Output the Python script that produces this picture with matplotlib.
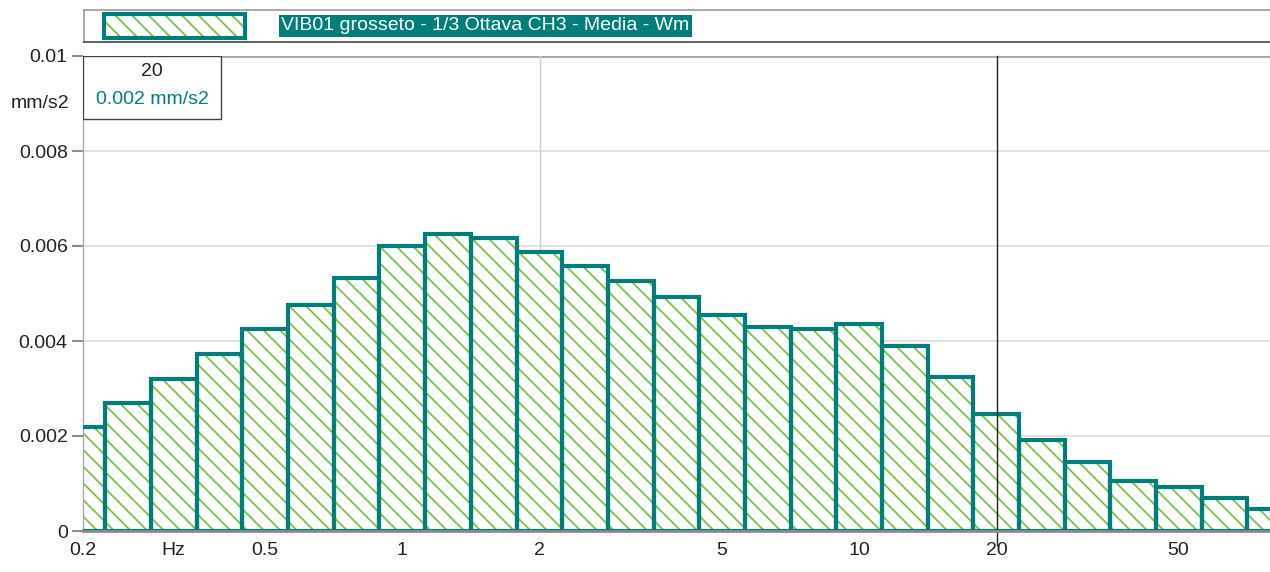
import numpy as np
import matplotlib
matplotlib.use("Agg")
import matplotlib.pyplot as plt
from matplotlib.patches import Rectangle

plt.rcParams['font.family'] = ['Liberation Sans Narrow', 'Liberation Sans', 'DejaVu Sans']
plt.rcParams['hatch.linewidth'] = 1.3

# 1/3 octave bands (Hz) and mean weighted acceleration (mm/s2)
bands = [0.2, 0.25, 0.315, 0.4, 0.5, 0.63, 0.8, 1, 1.25, 1.6, 2, 2.5, 3.15, 4,
         5, 6.3, 8, 10, 12.5, 16, 20, 25, 31.5, 40, 50, 63, 80]
values = [0.00219, 0.00269, 0.00320, 0.00373, 0.00425, 0.00476, 0.00533, 0.00600,
          0.00625, 0.00617, 0.00587, 0.00558, 0.00526, 0.00493, 0.00455, 0.00430,
          0.00425, 0.00436, 0.00390, 0.00324, 0.00246, 0.00192, 0.00145, 0.00105,
          0.00093, 0.00069, 0.00046]
xticks = [0.2, 0.315, 0.5, 1, 2, 5, 10, 20, 50]
xticklabels = ['0.2', 'Hz', '0.5', '1', '2', '5', '10', '20', '50']
yticks = [0, 0.002, 0.004, 0.006, 0.008, 0.01]
yticklabels = ['0', '0.002', '0.004', '0.006', '0.008', '0.01']
legend_label = 'VIB01 grosseto - 1/3 Ottava CH3 - Media - Wm'
cursor_freq = 20
cursor_value = values[bands.index(cursor_freq)]

TEAL = '#007f7a'
GREEN = '#7cc04a'
GREY = '#8c8c8c'

# exact base-10 band centres and edges
centres = 10 ** (np.round(10 * np.log10(bands)) / 10)
lo = centres * 10 ** -0.05
hi = centres * 10 ** 0.05

fig = plt.figure(figsize=(12.7, 5.72), dpi=100)
W, H = 1270, 572
ax = fig.add_axes([83 / W, 1 - 531 / H, (1270 - 83) / W, 475 / H])

ax.set_xscale('log')
ax.bar(lo, values, width=hi - lo, align='edge', color='white',
       edgecolor=GREEN, hatch='\\\\', linewidth=0, zorder=2)
ax.bar(lo, values, width=hi - lo, align='edge', fill=False,
       edgecolor=TEAL, linewidth=3, zorder=3)

ax.set_xlim(0.2, 79.3)
ax.set_ylim(0, 0.01)

# grid
for y in yticks[1:-1]:
    ax.axhline(y, color='#dcdcdc', linewidth=1.2, zorder=1)
ax.axhline(0.01, color='#a8a8a8', linewidth=2, zorder=1)
ax.axvline(2, color='#cccccc', linewidth=1, zorder=1)
ax.plot([cursor_freq, cursor_freq], [-0.0003, 0.01], color='#222222',
        linewidth=1, zorder=4, clip_on=False)

ax.set_xticks(xticks)
ax.set_xticklabels(xticklabels)
ax.xaxis.set_minor_locator(plt.NullLocator())
ax.set_yticks(yticks)
ax.set_yticklabels(yticklabels)
ax.tick_params(axis='both', colors=GREY, labelcolor='#222222', labelsize=14,
               length=8, width=1.5, direction='out', pad=3)
ax.tick_params(axis='x', length=0, pad=8)

for s in ['top', 'right']:
    ax.spines[s].set_visible(False)
ax.spines['left'].set_color('#aaaaaa')
ax.spines['left'].set_linewidth(1)
ax.spines['bottom'].set_color(GREY)
ax.spines['bottom'].set_linewidth(2)
ax.spines['bottom'].set_zorder(5)

fig.text(40 / W, 1 - 103 / H, 'mm/s2', ha='center', va='center',
         fontsize=14, color='#222222')

# cursor readout box
box = Rectangle((0, (531 - 119) / 475), 138 / 1187, 63 / 475,
                transform=ax.transAxes, facecolor='white', edgecolor='#444444',
                linewidth=1, zorder=6)
ax.add_patch(box)
ax.text(69 / 1187, (531 - 72) / 475, f'{cursor_freq}', ha='center',
        va='center', fontsize=14, color='#222222', transform=ax.transAxes,
        zorder=7)
ax.text(69 / 1187, (531 - 99) / 475, f'{cursor_value:.3f} mm/s2', ha='center',
        va='center', fontsize=14, color=TEAL, transform=ax.transAxes, zorder=7)

# legend strip
lax = fig.add_axes([84 / W, 1 - 42 / H, (1270 - 84) / W, 32 / H])
lax.set_xlim(0, 1186)
lax.set_ylim(32, 0)
lax.set_xticks([])
lax.set_yticks([])
for s in lax.spines.values():
    s.set_color('#999999')
    s.set_linewidth(1.2)
lax.spines['bottom'].set_color('#444444')
lax.spines['right'].set_visible(False)
lax.add_patch(Rectangle((20, 4), 141, 24, facecolor='white', edgecolor=GREEN,
                        hatch='\\\\', linewidth=0))
lax.add_patch(Rectangle((20, 4), 141, 24, fill=False, edgecolor=TEAL,
                        linewidth=3))
lax.text(197, 16, legend_label, ha='left', va='center', fontsize=14,
         color='white',
         bbox=dict(boxstyle='square,pad=0.12', facecolor=TEAL, edgecolor='none'))

fig.savefig('out.png', dpi=100)
